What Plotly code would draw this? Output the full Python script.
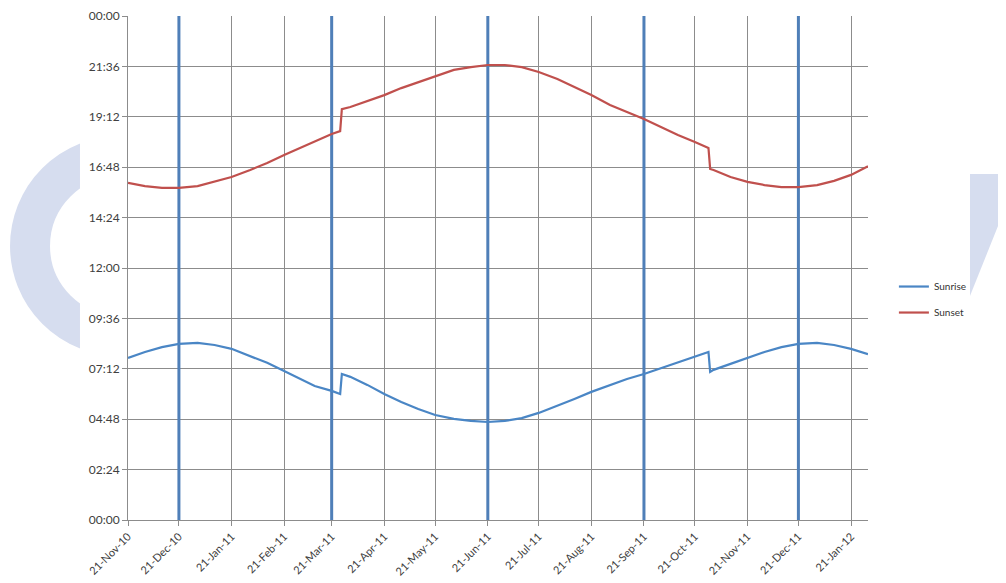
import plotly.graph_objects as go

# sample dates (every ~10 days plus the clock-change days)
dates = ["2010-11-21", "2010-12-01", "2010-12-11", "2010-12-21", "2011-01-01", "2011-01-11",
         "2011-01-21", "2011-02-01", "2011-02-11", "2011-02-21", "2011-03-01", "2011-03-11",
         "2011-03-21", "2011-03-26", "2011-03-27", "2011-04-01", "2011-04-11", "2011-04-21",
         "2011-05-01", "2011-05-11", "2011-05-21", "2011-06-01", "2011-06-11", "2011-06-21",
         "2011-07-01", "2011-07-11", "2011-07-21", "2011-08-01", "2011-08-11", "2011-08-21",
         "2011-09-01", "2011-09-11", "2011-09-21", "2011-10-01", "2011-10-11", "2011-10-21",
         "2011-10-29", "2011-10-30", "2011-11-01", "2011-11-11", "2011-11-21", "2011-12-01",
         "2011-12-11", "2011-12-21", "2012-01-01", "2012-01-11", "2012-01-21", "2012-01-31"]

sunrise = ["07:43", "08:00", "08:14", "08:23", "08:26", "08:20", "08:09", "07:49", "07:29", "07:06",
           "06:46", "06:23", "06:09", "06:00", "06:57", "06:49", "06:26", "06:00", "05:37", "05:17",
           "05:00", "04:49", "04:43", "04:40", "04:43", "04:51", "05:06", "05:26", "05:46", "06:06",
           "06:26", "06:43", "06:57", "07:14", "07:31", "07:46", "08:00", "07:03", "07:09", "07:26",
           "07:43", "08:00", "08:14", "08:23", "08:26", "08:20", "08:09", "07:54"]

sunset = ["16:03", "15:54", "15:49", "15:49", "15:54", "16:06", "16:20", "16:40", "17:00", "17:23",
          "17:40", "18:03", "18:23", "18:31", "19:34", "19:40", "19:57", "20:14", "20:34", "20:51",
          "21:09", "21:26", "21:34", "21:40", "21:40", "21:34", "21:20", "21:00", "20:37", "20:14",
          "19:46", "19:26", "19:06", "18:43", "18:20", "18:00", "17:43", "16:43", "16:40", "16:20",
          "16:06", "15:57", "15:51", "15:51", "15:57", "16:09", "16:26", "16:51"]

# solstices / equinoxes marked with vertical lines
markers = ["2010-12-21", "2011-03-21", "2011-06-21", "2011-09-21", "2011-12-21"]

x_ticks = ["2010-11-21", "2010-12-21", "2011-01-21", "2011-02-21", "2011-03-21", "2011-04-21",
           "2011-05-21", "2011-06-21", "2011-07-21", "2011-08-21", "2011-09-21", "2011-10-21",
           "2011-11-21", "2011-12-21", "2012-01-21"]
x_labels = ["21-Nov-10", "21-Dec-10", "21-Jan-11", "21-Feb-11", "21-Mar-11", "21-Apr-11",
            "21-May-11", "21-Jun-11", "21-Jul-11", "21-Aug-11", "21-Sep-11", "21-Oct-11",
            "21-Nov-11", "21-Dec-11", "21-Jan-12"]
y_labels = ["00:00", "02:24", "04:48", "07:12", "09:36", "12:00",
            "14:24", "16:48", "19:12", "21:36", "00:00"]


def day_frac(t):
    h, m = t.split(":")
    return int(h) / 24 + int(m) / 1440


fig = go.Figure()

# vertical marker lines
mx, my = [], []
for d in markers:
    mx += [d, d, None]
    my += [0, 1, None]
fig.add_trace(go.Scatter(x=mx, y=my, mode="lines", showlegend=False, hoverinfo="skip",
                         line=dict(color="#4F7FB8", width=3)))

fig.add_trace(go.Scatter(x=dates, y=[day_frac(t) for t in sunrise], mode="lines",
                         name="Sunrise", legendgroup="a", line=dict(color="#4A86C5", width=2.2)))
fig.add_trace(go.Scatter(x=dates, y=[day_frac(t) for t in sunset], mode="lines",
                         name="Sunset", legendgroup="b", line=dict(color="#C0504D", width=2.2)))

# faint watermark behind the chart
wm = "#D6DDEF"
shapes = [
    dict(type="circle", xref="paper", yref="paper", x0=-0.1324, x1=0.1108, y0=0.3651, y1=0.7222,
         line=dict(color=wm, width=40), layer="below"),
    dict(type="path", xref="paper", yref="paper", layer="below", fillcolor=wm, line=dict(width=0),
         path="M 1.1378 0.6865 L 1.2 0.6865 L 1.2 0.6726 L 1.1378 0.4444 Z"),
    dict(type="rect", xref="paper", yref="paper", x0=-0.0649, x1=1.1378, y0=-0.15, y1=1.0139,
         fillcolor="white", line=dict(width=0), layer="below"),
]

# the page body has an 8px margin, so the margins are shifted by that
fig.update_layout(
    width=1006, height=583,
    margin=dict(l=120, r=146, t=8, b=71),
    paper_bgcolor="white", plot_bgcolor="white",
    font=dict(family="Lato, Carlito, sans-serif", size=11, color="#404040"),
    shapes=shapes,
    legend=dict(x=1.035, y=0.492, xanchor="left", yanchor="top", bgcolor="rgba(0,0,0,0)",
                tracegroupgap=7, font=dict(size=10, color="#333333")),
)
fig.update_xaxes(type="date", range=["2010-11-21", "2012-01-31"], automargin=False,
                 tickvals=x_ticks, ticktext=x_labels, tickangle=-45,
                 showgrid=True, gridcolor="#8C8C8C", gridwidth=1,
                 showline=True, linecolor="#8C8C8C", ticks="outside", tickcolor="#8C8C8C",
                 ticklen=5, zeroline=False)
fig.update_yaxes(range=[0, 1], tickvals=[i / 10 for i in range(11)], ticktext=y_labels,
                 automargin=False, tickfont=dict(size=12),
                 showgrid=True, gridcolor="#8C8C8C", gridwidth=1,
                 showline=True, linecolor="#8C8C8C", ticks="outside", tickcolor="#8C8C8C",
                 ticklen=5, zeroline=False)

fig.write_html("out.html")
